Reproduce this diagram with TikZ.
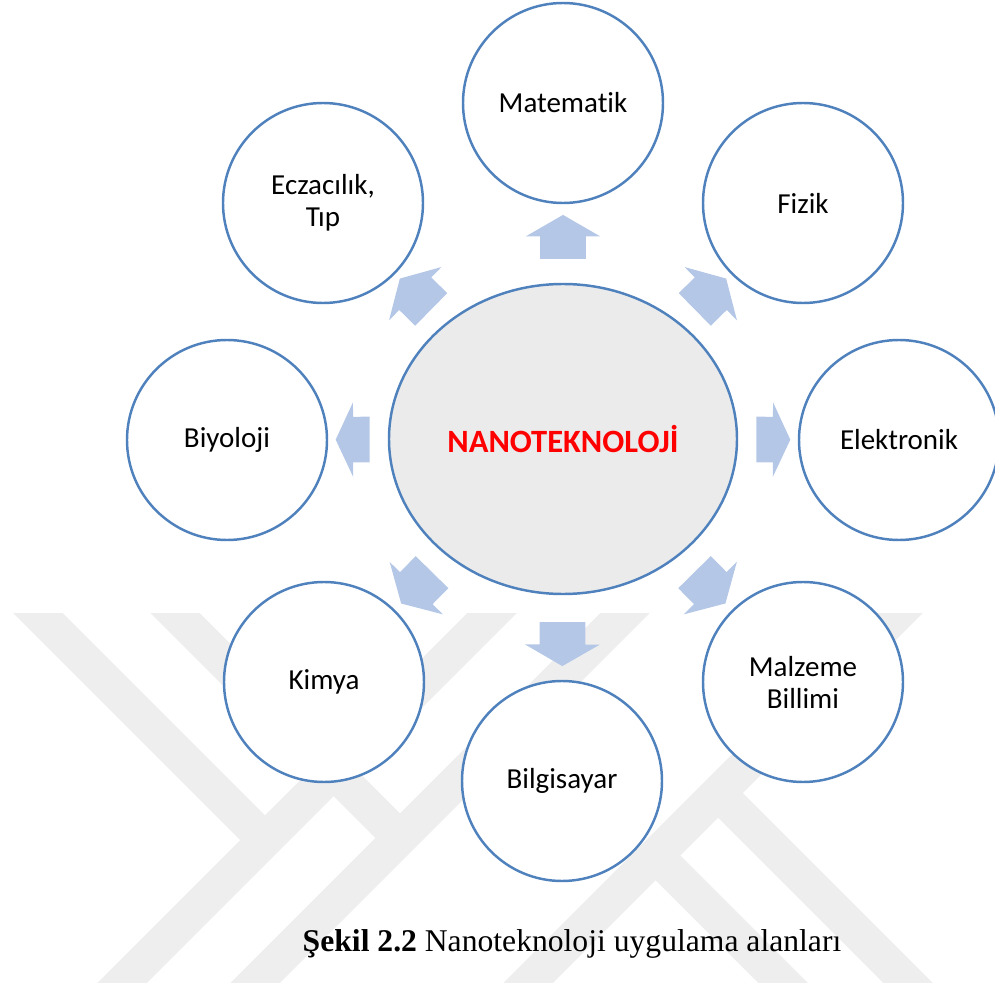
\documentclass[tikz,border=0pt]{standalone}
\usepackage{fontspec}
\setmainfont{Carlito}[Ligatures=NoCommon]
\newfontfamily\capfont{Liberation Serif}
\usetikzlibrary{shapes.geometric,shapes.arrows}
\definecolor{ringblue}{HTML}{4F81BD}
\definecolor{arrowblue}{HTML}{B4C7E7}
\definecolor{hubgray}{HTML}{EBEBEB}
\definecolor{markgray}{HTML}{EEEEEE}

\begin{document}
\begin{tikzpicture}[x=0.2mm, y=-0.2mm,
    field/.style={circle, draw=ringblue, line width=1.4pt, fill=white, minimum size=40mm, align=center, font=\fontsize{16.5}{18.2}\selectfont},
    hub/.style={ellipse, draw=ringblue, line width=1.4pt, fill=hubgray, minimum width=69.6mm, minimum height=62mm, text=red, font=\fontsize{18.5}{20}\selectfont\bfseries},
    blockarr/.style={single arrow, fill=arrowblue, inner xsep=0pt, inner ysep=4.5mm, minimum height=8.8mm, single arrow head extend=2.9mm, single arrow tip angle=120, sloped, allow upside down},
    sidearr/.style={blockarr, minimum height=6.8mm, single arrow tip angle=130},
    band/.style={draw=markgray, line width=7mm}
]
\useasboundingbox (0,0) rectangle (995,990);
\begin{scope}
\clip (13,613) rectangle (985,982);
\draw[band] (-20,555) -- (262,837);
\draw[band] (100,1005) -- (570,535);
\draw[band] (120,558) -- (400,838);
\draw[band] (230,1008) -- (700,538);
\draw[band] (500,1011) -- (975,536);
\draw[band] (718,793) -- (1000,1075);
\draw[band] (655,855) -- (900,1100);
\end{scope}
\node[hub] (nano) at (563,439) {NANOTEKNOLOJİ};
\node[field] (mat) at (563,103) {Matematik};
\node[field] (fiz) at (803,203) {Fizik};
\node[field] (elek) at (899,440) {Elektronik};
\node[field] (malz) at (803,682) {Malzeme\\Billimi};
\node[field] (bilg) at (562,781) {Bilgisayar};
\node[field] (kim) at (324,682) {Kimya};
\node[field] (biyo) at (227,440) {Biyoloji};
\node[field] (ecz) at (323,203) {Eczacılık,\\Tıp};
\path (nano) -- node[blockarr] (a1) {} (mat);
\path (nano) -- node[blockarr] (a2) {} (fiz);
\path (nano) -- node[sidearr] (a3) {} (elek);
\path (nano) -- node[blockarr] (a4) {} (malz);
\path (nano) -- node[blockarr] (a5) {} (bilg);
\path (nano) -- node[blockarr] (a6) {} (kim);
\path (nano) -- node[sidearr] (a7) {} (biyo);
\path (nano) -- node[blockarr] (a8) {} (ecz);
\node[anchor=base, font=\capfont\fontsize{18}{20}\selectfont] (cap) at (572,951) {\textbf{Şekil 2.2} Nanoteknoloji uygulama alanları};
\end{tikzpicture}
\end{document}
